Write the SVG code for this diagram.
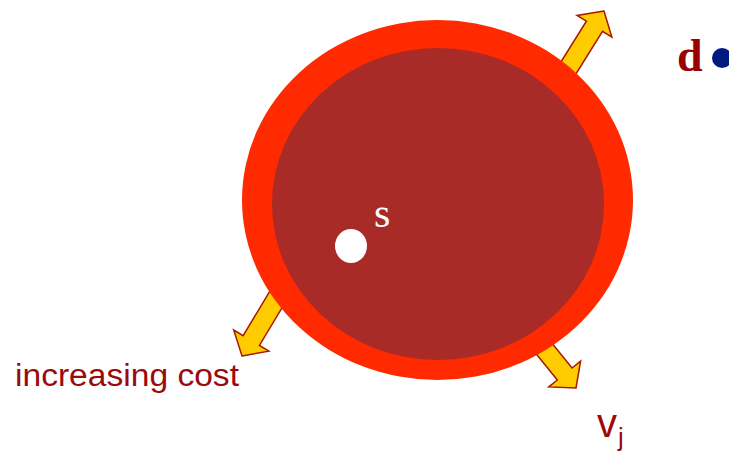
<svg xmlns="http://www.w3.org/2000/svg" width="729" height="451" viewBox="0 0 729 451">
<style>
.arrow{fill:#ffcc00;stroke:#a81800;stroke-width:1.5;stroke-linejoin:miter}
.lbl{fill:#9b0a0a;font-family:"Liberation Sans",Arial,sans-serif}
</style>
<defs>
<path id="arr" d="M0,0 L-18,-20.5 L-18,-9.5 L-75,-9.5 L-75,9.5 L-18,9.5 L-18,20.5 Z"/>
</defs>
<rect width="729" height="451" fill="#ffffff"/>
<g id="connectors">
<use href="#arr" class="arrow" transform="translate(604,11) rotate(-58)"/>
<use href="#arr" class="arrow" transform="translate(242,356) rotate(121)"/>
<use href="#arr" class="arrow" transform="translate(576,388) rotate(51)"/>
</g>
<g id="region">
<ellipse cx="437.5" cy="200" rx="195.5" ry="180" fill="#ff2a00"/>
<ellipse cx="438" cy="204" rx="166" ry="156" fill="#a82b28"/>
</g>
<g id="s">
<ellipse cx="351" cy="246" rx="16" ry="17" fill="#ffffff"/>
<text x="374" y="227" font-family="'Liberation Serif','Times New Roman',serif" font-size="42" fill="#ffffff">s</text>
</g>
<g id="d">
<text x="677" y="71" font-family="'Liberation Serif','Times New Roman',serif" font-weight="bold" font-size="46" fill="#990000">d</text>
<circle cx="722" cy="58" r="10" fill="#001a80"/>
</g>
<g id="label-cost">
<text class="lbl" x="15" y="386" font-size="31" textLength="224" lengthAdjust="spacingAndGlyphs">increasing cost</text>
</g>
<g id="vj">
<text class="lbl" x="597" y="437" font-size="40">v<tspan font-size="26" dy="9" dx="1">j</tspan></text>
</g>
</svg>
